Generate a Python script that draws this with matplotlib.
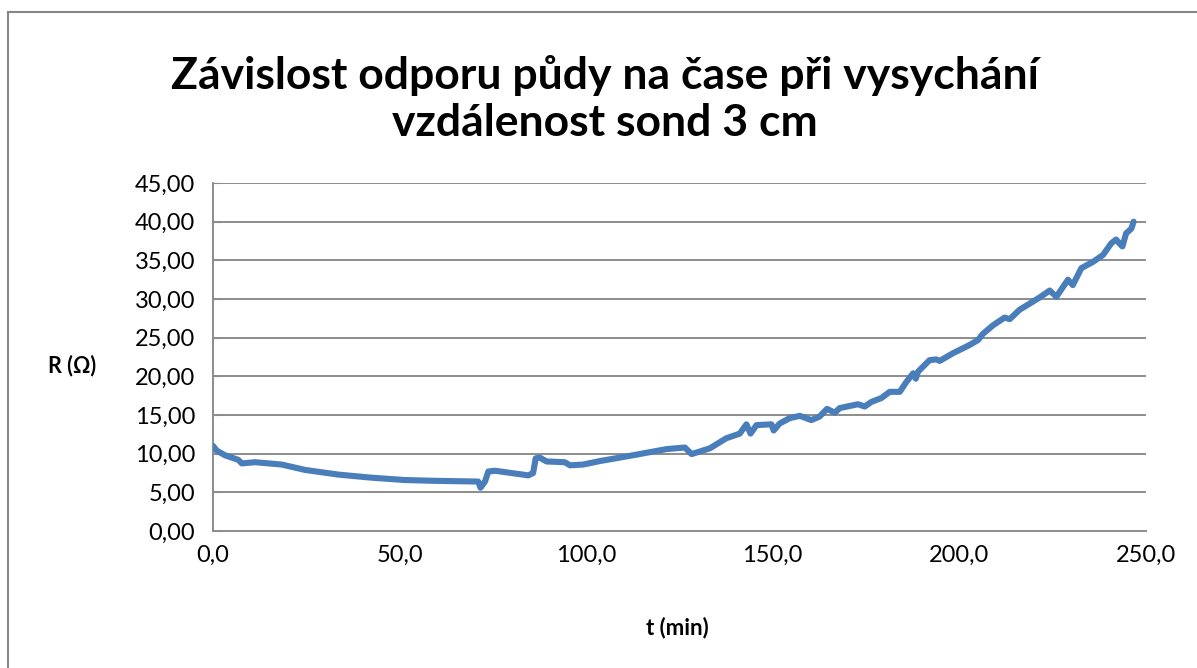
import matplotlib.pyplot as plt
from matplotlib.ticker import FuncFormatter, MultipleLocator
from matplotlib.lines import Line2D

# t (min) and R (Ohm)
t_min = [0.0, 1.0, 3.2, 6.8, 7.7, 11.3, 18.4, 24.7, 33.6, 42.5, 51.4, 59.0, 71.1, 71.7,
         72.9, 73.8, 75.6, 84.5, 85.8, 86.5, 87.6, 89.4, 94.3, 95.7, 99.2, 103.7,
         112.6, 121.6, 126.5, 128.3, 133.2, 137.6, 141.2, 143.0, 144.1, 145.7, 149.7,
         150.3, 151.9, 154.6, 157.3, 160.4, 162.6, 164.6, 166.7, 168.0, 172.9, 174.7,
         176.5, 179.2, 181.4, 184.1, 185.9, 187.7, 188.4, 189.0, 192.1, 193.9, 194.8,
         198.4, 202.8, 205.1, 206.4, 209.1, 212.2, 213.6, 216.2, 218.9, 221.6, 224.3,
         226.1, 229.2, 230.5, 232.8, 235.9, 238.6, 240.8, 242.1, 243.0, 243.8, 244.8,
         246.2, 246.8]
r_ohm = [11.0, 10.4, 9.8, 9.2, 8.75, 8.9, 8.6, 7.9, 7.3, 6.9, 6.6, 6.5, 6.4, 5.6,
         6.4, 7.7, 7.8, 7.2, 7.5, 9.4, 9.5, 9.0, 8.9, 8.5, 8.6, 9.05,
         9.8, 10.6, 10.8, 9.95, 10.7, 12.0, 12.6, 13.8, 12.6, 13.7, 13.8,
         13.0, 13.9, 14.6, 14.9, 14.35, 14.8, 15.8, 15.3, 15.9, 16.4, 16.1,
         16.7, 17.2, 18.0, 18.0, 19.3, 20.4, 19.7, 20.6, 22.1, 22.2, 22.0,
         23.0, 24.05, 24.7, 25.5, 26.6, 27.6, 27.4, 28.6, 29.4, 30.2, 31.1,
         30.3, 32.5, 31.8, 34.0, 34.8, 35.7, 37.2, 37.7, 37.2, 36.8, 38.5,
         39.1, 40.0]

plt.rcParams['font.family'] = ['Lato', 'DejaVu Sans']

fig = plt.figure(figsize=(11.97, 6.68), dpi=100)
ax = fig.add_axes([0.178, 0.205, 0.779, 0.521])

grid_c = '#8c8c8c'
for v in range(5, 50, 5):
    ax.axhline(v, color=grid_c, lw=1.4, zorder=1)

ax.plot(t_min, r_ohm, color='#4a7ebb', lw=4.4, solid_capstyle='round',
        solid_joinstyle='round', zorder=3)

ax.set_xlim(0, 250)
ax.set_ylim(0, 45)
ax.xaxis.set_major_locator(MultipleLocator(50))
ax.yaxis.set_major_locator(MultipleLocator(5))
ax.xaxis.set_major_formatter(FuncFormatter(lambda v, p: f"{v:.1f}".replace('.', ',')))
ax.yaxis.set_major_formatter(FuncFormatter(lambda v, p: f"{v:.2f}".replace('.', ',')))

for s in ['top', 'right']:
    ax.spines[s].set_visible(False)
ax.spines['left'].set_color(grid_c)
ax.spines['bottom'].set_color(grid_c)
ax.spines['left'].set_linewidth(1.4)
ax.spines['bottom'].set_linewidth(1.4)
ax.tick_params(axis='x', length=0, pad=10, labelsize=17)
ax.tick_params(axis='y', length=6, direction='in', color=grid_c, pad=13, labelsize=17)

fig.text(0.505, 0.852, 'Závislost odporu půdy na čase při vysychání\nvzdálenost sond 3 cm',
         ha='center', va='center', fontsize=32, fontweight='bold', linespacing=1.2)
fig.text(0.06, 0.453, 'R (Ω)', ha='center', va='center', fontsize=15.5, fontweight='bold')
fig.text(0.566, 0.06, 't (min)', ha='center', va='center', fontsize=16, fontweight='bold')

# outer chart frame
fig.add_artist(Line2D([0.007, 0.007], [0, 0.982], color='#878787', lw=1.5, transform=fig.transFigure))
fig.add_artist(Line2D([0.007, 1], [0.982, 0.982], color='#878787', lw=1.5, transform=fig.transFigure))

fig.savefig('out.png', dpi=100)
